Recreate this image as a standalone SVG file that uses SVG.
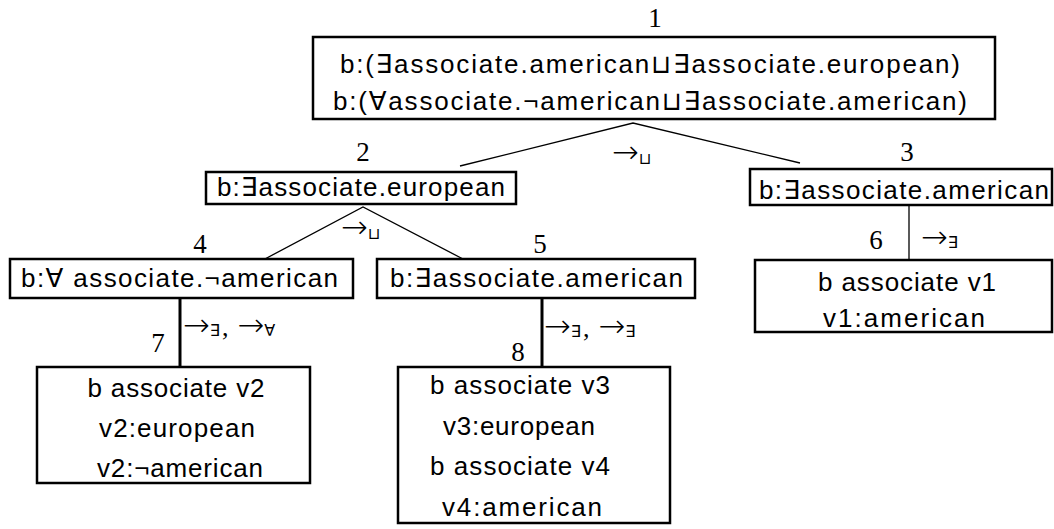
<svg xmlns="http://www.w3.org/2000/svg" width="1054" height="529" viewBox="0 0 1054 529">
<style>
.box{fill:#fff;stroke:#000;stroke-width:2.5}
.t{font-family:"Liberation Sans","DejaVu Sans",sans-serif;font-size:26px;fill:#000}
.c{text-anchor:middle}
.n{font-family:"Liberation Serif","DejaVu Serif",serif;font-size:27px;fill:#000;text-anchor:middle}
.a{font-family:"DejaVu Sans",sans-serif;font-size:32px;font-weight:200;fill:#000}
.s{font-family:"DejaVu Sans",sans-serif;font-size:16px;font-weight:400}
.cm{font-family:"Liberation Serif",serif;font-size:26px;font-weight:400}
.thin{stroke:#000;stroke-width:1.3;fill:none}
.thick{stroke:#000;stroke-width:3;fill:none}
</style>
<rect width="1054" height="529" fill="#fff"/>
<g id="connectors">
<polyline class="thin" points="460,166 633,123 800,163"/>
<polyline class="thin" points="263,260 363,207 463,259"/>
<line class="thin" x1="909" y1="205" x2="909" y2="260"/>
<line class="thick" x1="180" y1="298" x2="180" y2="367"/>
<line class="thick" x1="542" y1="298" x2="542" y2="367"/>
<text class="a" x="612" y="163">→<tspan class="s" dy="1">⊔</tspan></text>
<text class="a" x="341" y="238">→<tspan class="s" dy="1">⊔</tspan></text>
<text class="a" x="921" y="248">→<tspan class="s">∃</tspan></text>
<text class="a" x="183" y="336">→<tspan class="s">∃</tspan><tspan class="cm" dx="2">,</tspan><tspan dx="9">→</tspan><tspan class="s">∀</tspan></text>
<text class="a" x="544" y="337">→<tspan class="s">∃</tspan><tspan class="cm" dx="2">,</tspan><tspan dx="9">→</tspan><tspan class="s">∃</tspan></text>
</g>
<g id="node1">
<text class="n" x="655" y="27">1</text>
<rect class="box" x="313" y="37" width="682" height="82"/>
<text class="t" x="340" y="73" textLength="620">b:(∃associate.american⊔∃associate.european)</text>
<text class="t" x="333" y="110" textLength="634">b:(∀associate.¬american⊔∃associate.american)</text>
</g>
<g id="node2">
<text class="n" x="363" y="161">2</text>
<rect class="box" x="206" y="172" width="310" height="32"/>
<text class="t" x="217" y="196" textLength="288">b:∃associate.european</text>
</g>
<g id="node3">
<text class="n" x="907" y="161">3</text>
<rect class="box" x="750" y="169" width="302" height="36"/>
<text class="t" x="759" y="199" textLength="290">b:∃associate.american</text>
</g>
<g id="node4">
<text class="n" x="200" y="253">4</text>
<rect class="box" x="10" y="259" width="343" height="39"/>
<text class="t" x="21" y="287" textLength="317">b:∀ associate.¬american</text>
</g>
<g id="node5">
<text class="n" x="540" y="253">5</text>
<rect class="box" x="377" y="259" width="318" height="39"/>
<text class="t" x="390" y="287" textLength="293">b:∃associate.american</text>
</g>
<g id="node6">
<text class="n" x="876" y="249">6</text>
<rect class="box" x="755" y="260" width="297" height="72"/>
<text class="t c" x="907" y="291" textLength="178">b associate v1</text>
<text class="t c" x="904" y="327" textLength="162">v1:american</text>
</g>
<g id="node7">
<text class="n" x="158" y="352">7</text>
<rect class="box" x="37" y="367" width="273" height="116"/>
<text class="t c" x="176" y="397" textLength="177">b associate v2</text>
<text class="t c" x="177" y="437" textLength="156">v2:european</text>
<text class="t c" x="180" y="477" textLength="166">v2:¬american</text>
</g>
<g id="node8">
<text class="n" x="518" y="361">8</text>
<rect class="box" x="398" y="367" width="272" height="156"/>
<text class="t c" x="520" y="394" textLength="180">b associate v3</text>
<text class="t c" x="519" y="435" textLength="152">v3:european</text>
<text class="t c" x="520" y="475" textLength="180">b associate v4</text>
<text class="t c" x="522" y="516" textLength="160">v4:american</text>
</g>
</svg>
